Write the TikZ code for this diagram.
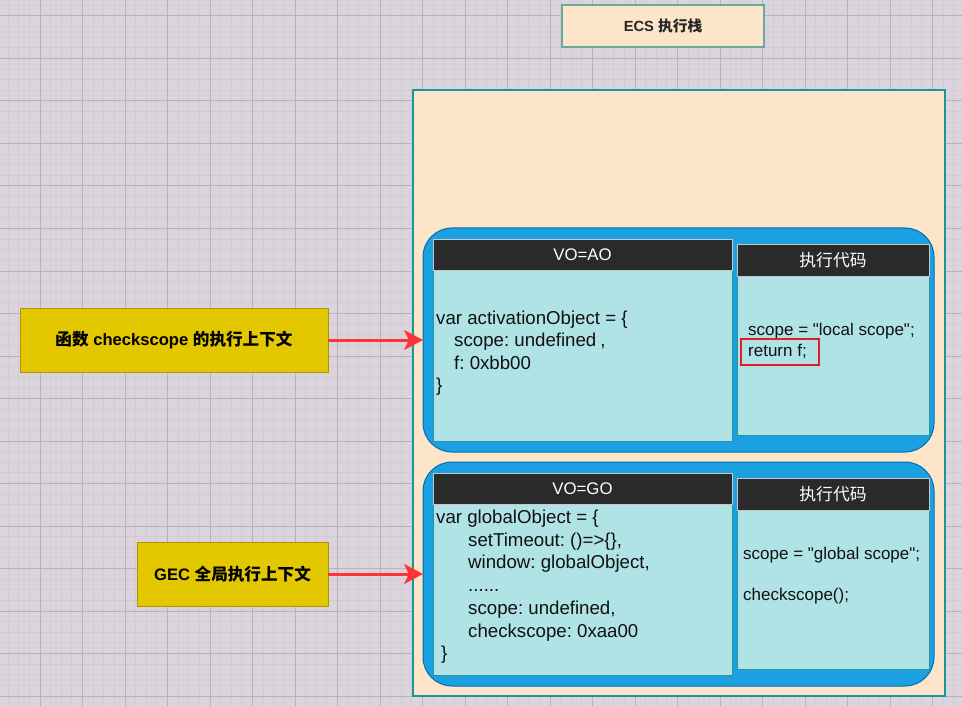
\documentclass[tikz,border=0pt]{standalone}
\usepackage{fontspec}
\setmainfont{Liberation Sans}[Ligatures=TeXOff]
\newfontfamily\codefont{Liberation Sans}[Ligatures=TeXOff]
\newfontfamily\cjk{Noto Sans CJK SC}
\usetikzlibrary{arrows.meta}
\frenchspacing
\definecolor{bgc}{HTML}{DCD4DC}
\definecolor{minorc}{HTML}{D3CBD3}
\definecolor{majorc}{HTML}{BAB2BA}
\definecolor{peach}{HTML}{FCE5C8}
\definecolor{outerline}{HTML}{12999A}
\definecolor{ecsline}{HTML}{67AB9F}
\definecolor{bluec}{HTML}{1BA1E2}
\definecolor{blueline}{HTML}{006EAF}
\definecolor{hdrc}{HTML}{2A2A2A}
\definecolor{hdrline}{HTML}{C8C8C8}
\definecolor{bodyc}{HTML}{B0E3E6}
\definecolor{bodyline}{HTML}{2E9098}
\definecolor{yelc}{HTML}{E3C800}
\definecolor{yelline}{HTML}{B09500}
\definecolor{redc}{HTML}{FF3333}
\definecolor{redbox}{HTML}{E51C23}
\definecolor{codec}{HTML}{111111}
\tikzset{
  boxbase/.style={anchor=north west, inner sep=0pt, outer sep=0pt},
  ecsbox/.style={boxbase, fill=peach, draw=ecsline, line width=2pt, text=black!85, font=\bfseries\fontsize{14.7}{17}\selectfont},
  outerbox/.style={boxbase, fill=peach, draw=outerline, line width=1.2pt},
  bluebox/.style={boxbase, fill=bluec, draw=blueline, line width=1pt, rounded corners=29pt},
  hdrbox/.style={boxbase, fill=hdrc, draw=hdrline, line width=1pt, text=white, font=\fontsize{16.8}{20}\selectfont},
  bodybox/.style={boxbase, fill=bodyc, draw=bodyline, line width=1pt},
  yelbox/.style={boxbase, fill=yelc, draw=yelline, line width=1pt, text=black, font=\bfseries\fontsize{16.6}{20}\selectfont},
  codebig/.style={anchor=base west, inner sep=0pt, text=codec, font=\codefont\fontsize{18.67}{22}\selectfont},
  codesmall/.style={anchor=base west, inner sep=0pt, text=codec, font=\codefont\fontsize{17}{20}\selectfont},
  redframe/.style={boxbase, draw=redbox, line width=2pt},
  arr/.style={draw=redc, line width=3pt, -{Stealth[length=19pt,width=20pt,inset=5pt]}}
}
\begin{document}
\begin{tikzpicture}[x=1pt,y=-1pt]
\useasboundingbox (0,0) rectangle (962,706);
% background grid
\fill[bgc] (0,0) rectangle (962,706);
\foreach \k in {0,...,91} {
  \draw[minorc, line width=1pt] ({-2.5+10.625*\k},0) -- ({-2.5+10.625*\k},706);
}
\foreach \k in {0,...,67} {
  \draw[minorc, line width=1pt] (0,{-5.25+10.625*\k}) -- (962,{-5.25+10.625*\k});
}
\foreach \k in {0,...,23} {
  \draw[majorc, line width=1pt] ({-2.5+42.5*\k},0) -- ({-2.5+42.5*\k},706);
}
\foreach \k in {0,...,17} {
  \draw[majorc, line width=1pt] (0,{16+42.5*\k}) -- (962,{16+42.5*\k});
}
% ECS label
\node[ecsbox, minimum width=202pt, minimum height=42pt] (ecs) at (562,5) {ECS {\cjk 执行栈}};
% outer container
\node[outerbox, minimum width=532pt, minimum height=606pt] (outer) at (413,90) {};
% upper context
\node[bluebox, minimum width=511pt, minimum height=224pt] (blueA) at (423,228) {};
\node[bodybox, minimum width=299pt, minimum height=171pt] (bodyAL) at (433,270) {};
\node[hdrbox, minimum width=299pt, minimum height=31pt] (hdrAL) at (433,239) {VO=AO};
\node[bodybox, minimum width=192pt, minimum height=159pt] (bodyAR) at (737,276) {};
\node[hdrbox, minimum width=192pt, minimum height=32pt] (hdrAR) at (737,244) {\cjk 执行代码};
\node[codebig] (a1) at (436,324) {var activationObject = \{};
\node[codebig] (a2) at (454,346.5) {scope: undefined\hspace{4pt},};
\node[codebig] (a3) at (454,369) {f: 0xbb00};
\node[codebig] (a4) at (436,391.5) {\}};
\node[codesmall] (ar1) at (748,335.5) {scope = \symbol{34}local scope\symbol{34};};
\node[codesmall] (ar2) at (748,356) {return f;};
\node[redframe, minimum width=78pt, minimum height=26pt] (rf) at (741,339) {};
% lower context
\node[bluebox, minimum width=511pt, minimum height=224pt] (blueB) at (423,462) {};
\node[bodybox, minimum width=299pt, minimum height=171pt] (bodyBL) at (433,504) {};
\node[hdrbox, minimum width=299pt, minimum height=31pt] (hdrBL) at (433,473) {VO=GO};
\node[bodybox, minimum width=192pt, minimum height=159pt] (bodyBR) at (737,510) {};
\node[hdrbox, minimum width=192pt, minimum height=32pt] (hdrBR) at (737,478) {\cjk 执行代码};
\node[codebig] (b1) at (436,523.5) {var globalObject = \{};
\node[codebig] (b2) at (468,546.2) {setTimeout: ()=>\{\},};
\node[codebig] (b3) at (468,568.9) {window: globalObject,};
\node[codebig] (b4) at (468,591.6) {......};
\node[codebig] (b5) at (468,614.3) {scope: undefined,};
\node[codebig] (b6) at (468,637) {checkscope: 0xaa00};
\node[codebig] (b7) at (441,659.7) {\}};
\node[codesmall] (br1) at (743,559.5) {scope = \symbol{34}global scope\symbol{34};};
\node[codesmall] (br2) at (743,600) {checkscope();};
% left labels
\node[yelbox, minimum width=308pt, minimum height=64pt] (yA) at (20,308) {{\cjk 函数} checkscope {\cjk 的执行上下文}};
\node[yelbox, minimum width=191pt, minimum height=64pt] (yB) at (137,542) {GEC {\cjk 全局执行上下文}};
% connectors
\draw[arr] (yA.east) -- (blueA.west);
\draw[arr] (yB.east) -- (blueB.west);
\end{tikzpicture}
\end{document}
